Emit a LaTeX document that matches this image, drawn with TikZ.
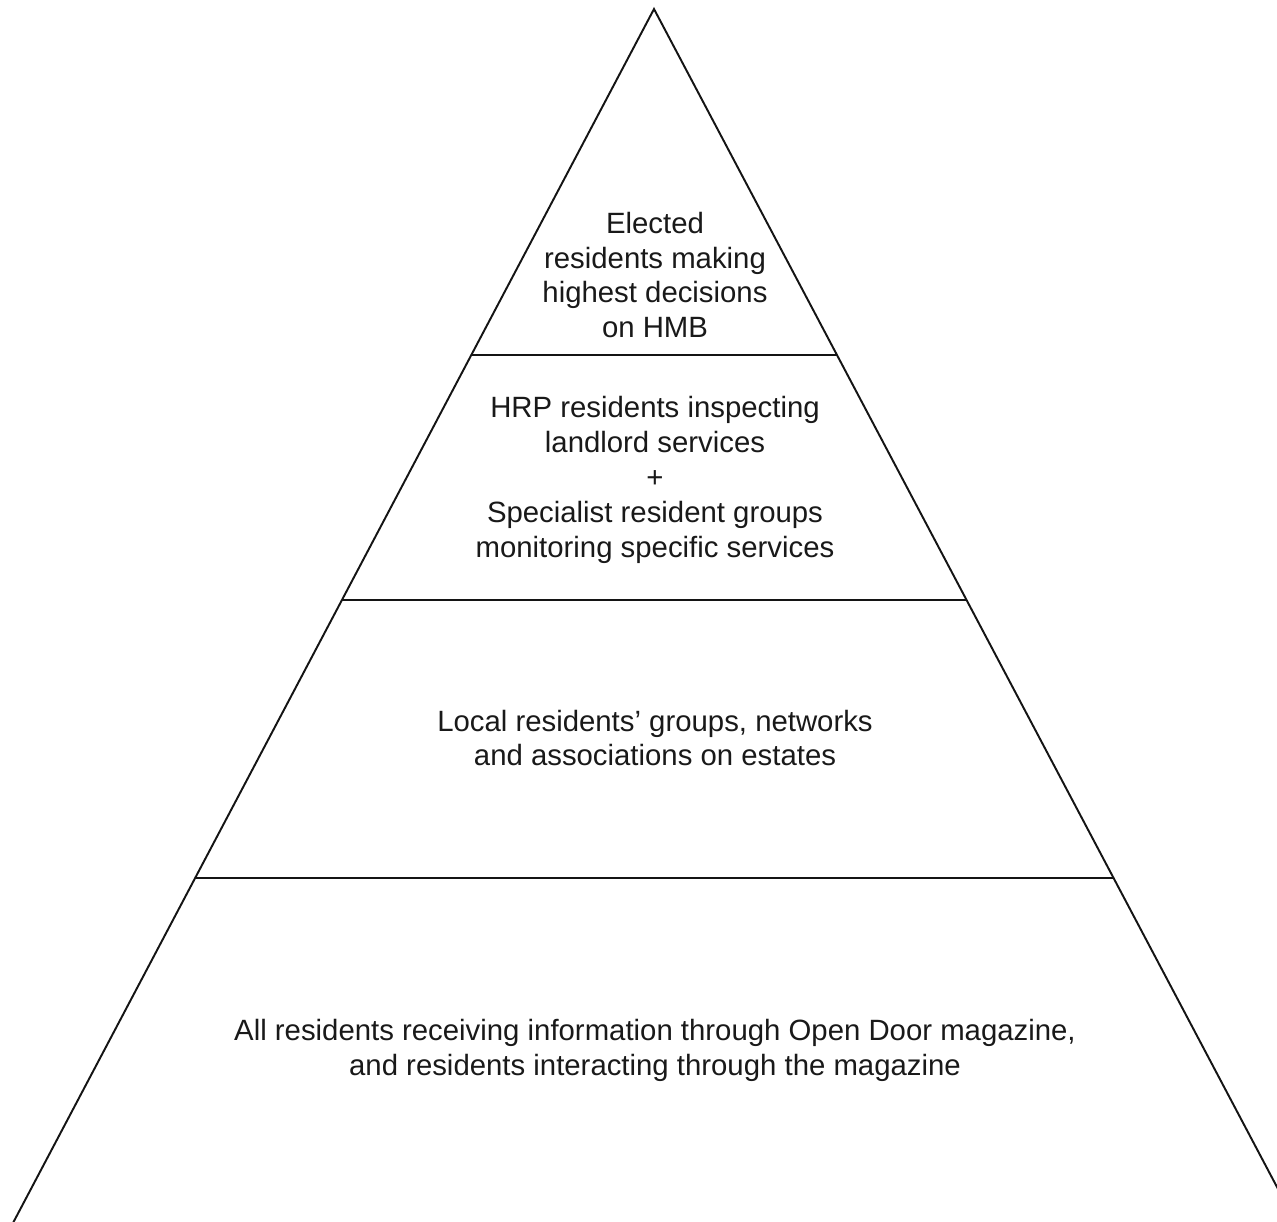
\documentclass[tikz,border=0pt]{standalone}
\usepackage{fontspec}
\setmainfont{Liberation Sans}
\usetikzlibrary{calc, positioning}
\definecolor{edge}{RGB}{20,20,20}
\definecolor{ink}{RGB}{25,25,25}

\tikzset{
  tierline/.style={draw=edge, line width=1.1pt},
  tiertext/.style={text=ink, align=center, inner sep=0pt,
                   font=\fontsize{16.7}{19.9}\selectfont}
}

\begin{document}
\begin{tikzpicture}[x=0.02cm, y=-0.02cm]
        \useasboundingbox (0,0) rectangle (1277,1221);
        \clip (0,0) rectangle (1277,1221);
        % outline of the pyramid
        \coordinate (apex) at (654,9);
        \coordinate (baseL) at (4,1240);
        \coordinate (baseR) at (1305,1240);
        \draw[tierline, line join=miter] (baseL) -- (apex) -- (baseR);
        % tier boundaries
        \foreach \t/\name in {0.281/one, 0.480/two, 0.706/three}{
          \coordinate (\name L) at ($(apex)!\t!(baseL)$);
          \coordinate (\name R) at ($(apex)!\t!(baseR)$);
          \draw[tierline] (\name L) -- (\name R);
        }
        % labels
        \node[tiertext] (board) at (655,275)
          {Elected\\residents making\\highest decisions\\on HMB};
        \node[tiertext] (panel) at (655,480)
          {HRP residents inspecting\\landlord services\\+\\Specialist resident groups\\monitoring specific services};
        \node[tiertext] (local) at (655,738)
          {Local residents’ groups, networks\\and associations on estates};
        \node[tiertext] (all) at (655,1050)
          {All residents receiving information through Open Door magazine,\\and residents interacting through the magazine};
      \end{tikzpicture}
\end{document}
